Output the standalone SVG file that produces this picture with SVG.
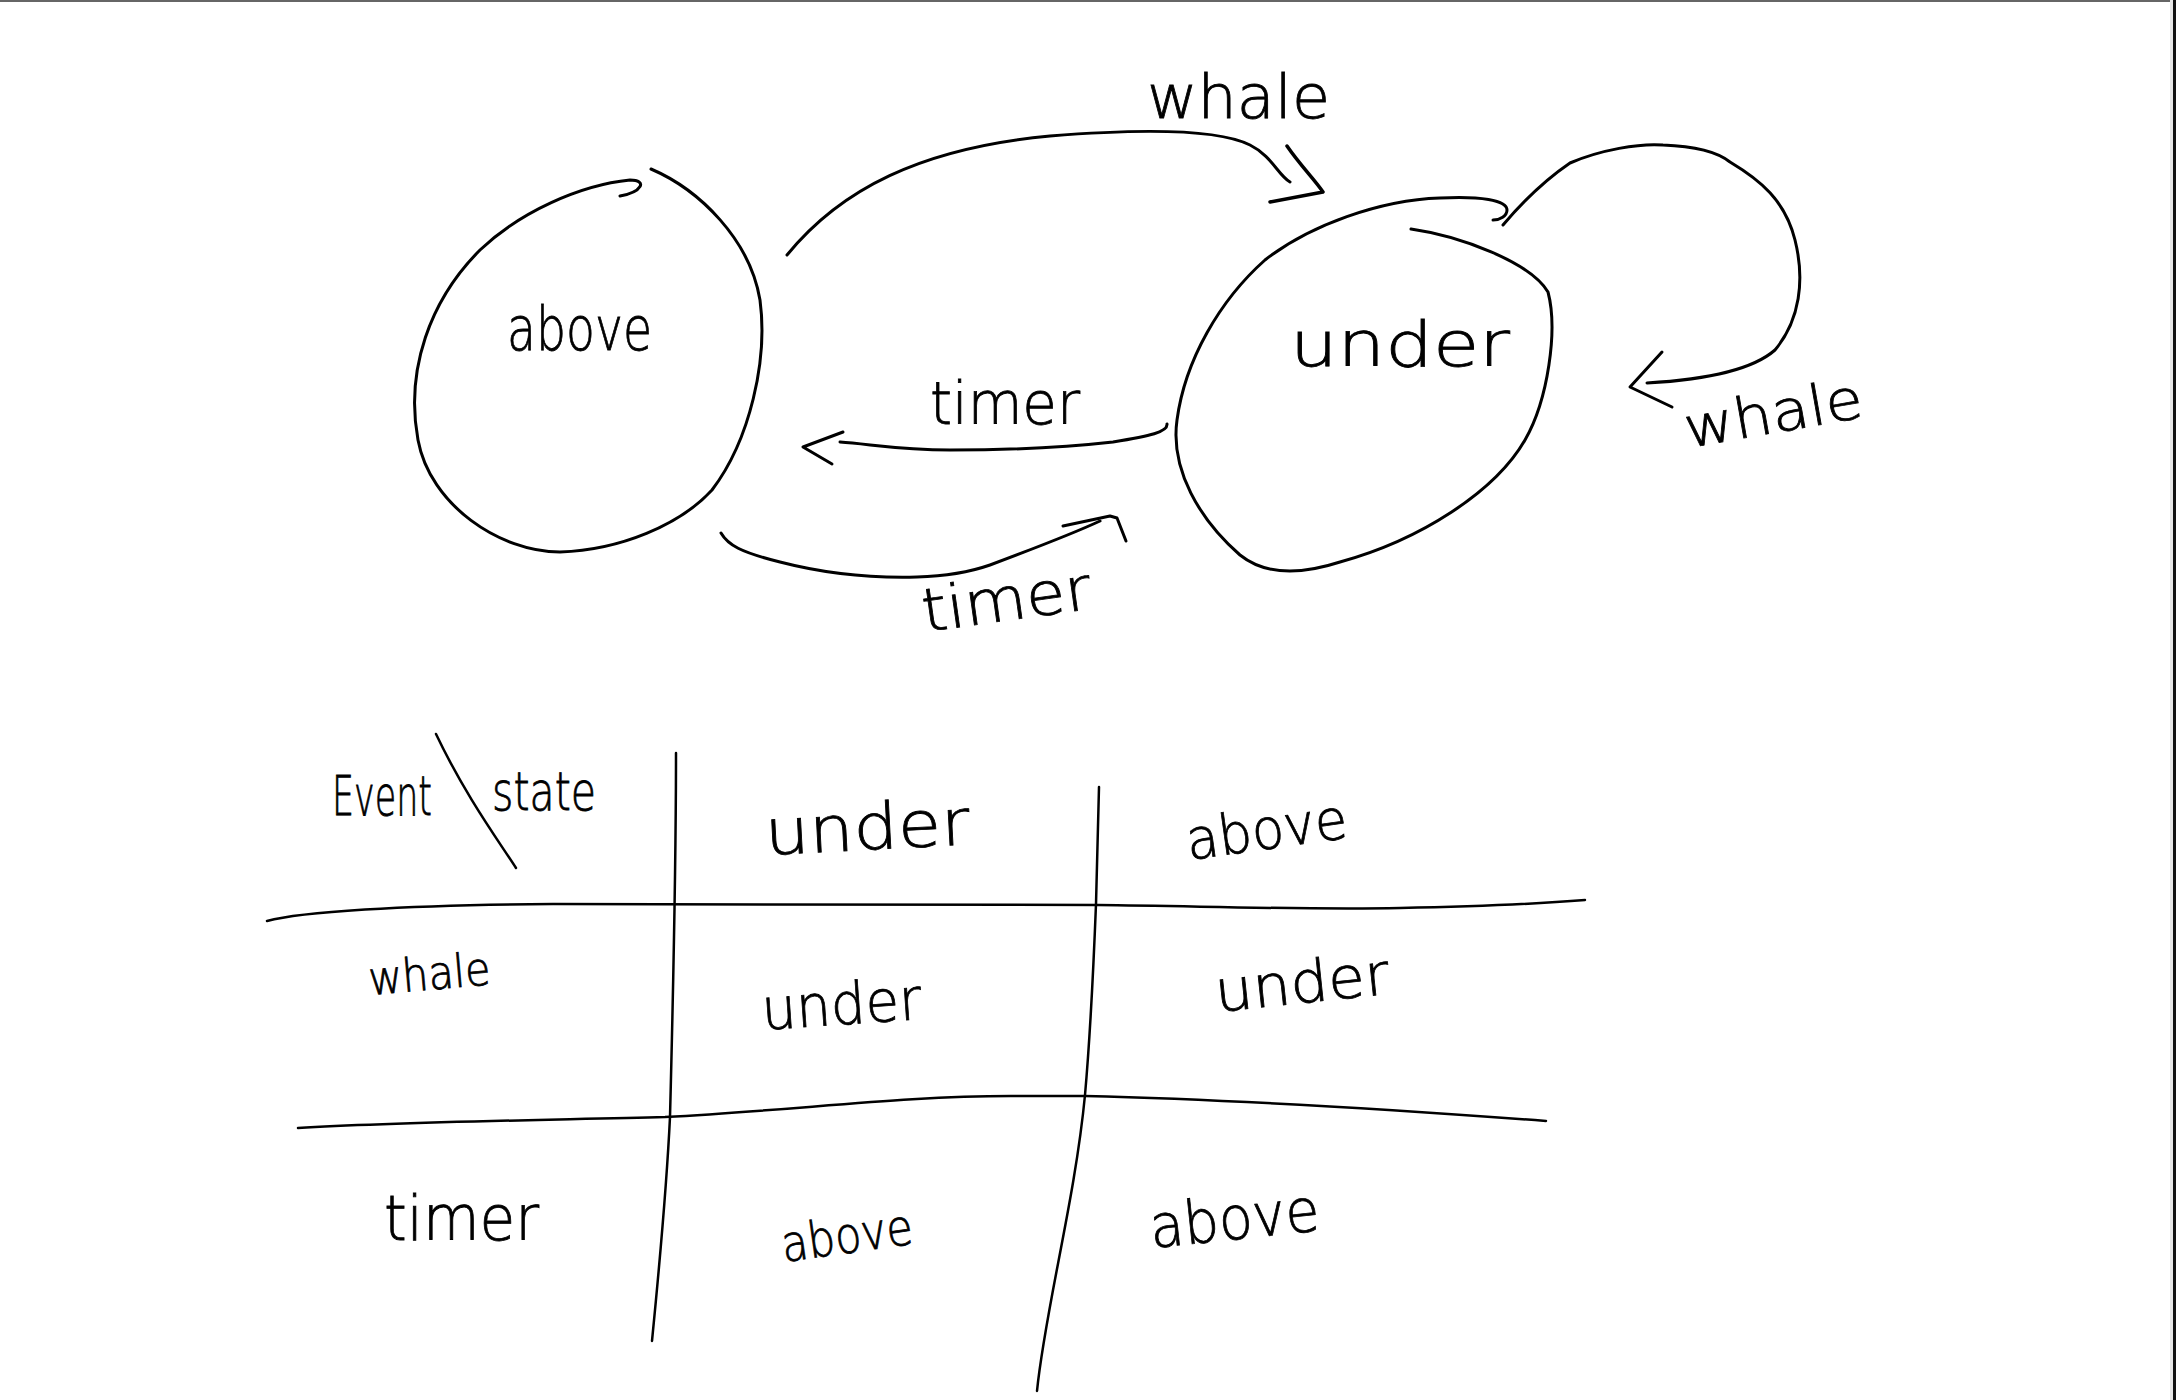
<svg xmlns="http://www.w3.org/2000/svg" width="2176" height="1400" viewBox="0 0 2176 1400">
<style>
.ink{fill:none;stroke:#000;stroke-width:3;stroke-linecap:round;stroke-linejoin:round}
.thin{fill:none;stroke:#000;stroke-width:2.5;stroke-linecap:round;stroke-linejoin:round}
.head{fill:none;stroke:#000;stroke-width:3.5;stroke-linecap:round;stroke-linejoin:round}
.hw{font-family:"DejaVu Sans","Liberation Sans",sans-serif;font-weight:200;fill:#000;stroke:#000;stroke-width:0.8}
</style>
<rect x="0" y="0" width="2176" height="1400" fill="#fff"/>
<line x1="0" y1="1" x2="2176" y2="1" stroke="#666" stroke-width="2"/>
<rect x="2170" y="0" width="3" height="1400" fill="#e6e6e6"/>
<rect x="2173" y="0" width="3" height="1400" fill="#111"/>

<g id="node-above">
<path class="ink" d="M651,169 C700,190 750,240 760,300 C768,360 750,440 712,490 C680,525 620,550 560,552 C500,552 430,505 418,440 C405,370 430,300 480,250 C520,212 580,185 630,180 C648,180 642,192 620,196"/>
<text class="hw" x="507" y="350" font-size="60" textLength="145" lengthAdjust="spacingAndGlyphs">above</text>
</g>

<g id="node-under">
<path class="ink" d="M1411,229 C1460,236 1530,262 1548,292 C1558,330 1548,400 1525,440 C1495,492 1420,540 1340,562 C1300,575 1265,575 1240,555 C1200,520 1170,470 1177,420 C1185,360 1220,300 1265,260 C1310,225 1380,200 1440,198 C1480,196 1507,200 1507,210 C1507,216 1500,220 1493,220"/>
<text class="hw" x="1290" y="366" font-size="62" textLength="220" lengthAdjust="spacingAndGlyphs">under</text>
</g>

<g id="connectors">
<g id="edge-whale-above-under">
<path class="ink" d="M787,255 C840,190 920,148 1050,136 C1150,128 1220,130 1250,145 C1272,156 1278,175 1290,182"/>
<path class="head" d="M1287,146 C1300,165 1315,180 1323,192 L1270,202"/>
</g>
<g id="edge-timer-under-above">
<path class="ink" d="M1167,424 C1168,432 1150,436 1113,442 C1060,448 1000,450 950,450 C900,450 870,444 840,442"/>
<path class="ink" d="M843,432 L803,447 L832,464"/>
</g>
<g id="edge-timer-above-under">
<path class="ink" d="M721,533 C728,545 740,552 780,562 C830,575 880,578 917,577 C950,576 970,572 990,565 C1030,550 1070,535 1100,521"/>
<path class="ink" d="M1063,526 L1110,516 L1117,518 L1126,541"/>
</g>
<g id="edge-whale-under-self">
<path class="ink" d="M1503,225 C1520,205 1545,180 1570,163 C1600,150 1640,143 1663,145 C1690,146 1715,150 1730,162 C1760,180 1785,200 1795,240 C1805,280 1800,320 1775,350 C1750,372 1700,380 1647,383"/>
<path class="ink" d="M1662,352 L1630,387 L1672,407"/>
</g>
</g>

<g id="edge-labels">
<text class="hw" x="1147" y="118" font-size="60" textLength="183" lengthAdjust="spacingAndGlyphs">whale</text>
<text class="hw" x="930" y="424" font-size="58" textLength="150" lengthAdjust="spacingAndGlyphs">timer</text>
<text class="hw" x="925" y="632" font-size="60" textLength="170" lengthAdjust="spacingAndGlyphs" transform="rotate(-8 925 632)">timer</text>
<text class="hw" x="1688" y="448" font-size="56" textLength="180" lengthAdjust="spacingAndGlyphs" transform="rotate(-10 1688 448)">whale</text>
</g>

<g id="table">
<path class="thin" d="M267,921 C300,912 400,905 553,904 L1098,905 C1200,906 1300,910 1400,908 C1500,906 1560,902 1585,900"/>
<path class="thin" d="M298,1128 C400,1122 550,1120 665,1117 C800,1110 900,1096 1011,1096 L1085,1096 C1250,1100 1400,1110 1546,1121"/>
<path class="thin" d="M676,753 C676,850 673,1000 670,1117 C666,1200 657,1290 652,1341"/>
<path class="thin" d="M1099,787 L1096,904 C1093,980 1089,1050 1085,1095 C1075,1200 1045,1310 1037,1391"/>
<path class="thin" d="M436,734 C465,795 498,840 516,868"/>
<text class="hw" x="332" y="815" font-size="56" textLength="100" lengthAdjust="spacingAndGlyphs">Event</text>
<text class="hw" x="492" y="810" font-size="54" textLength="104" lengthAdjust="spacingAndGlyphs">state</text>
<text class="hw" x="766" y="855" font-size="64" textLength="205" lengthAdjust="spacingAndGlyphs" transform="rotate(-3 766 855)">under</text>
<text class="hw" x="1189" y="860" font-size="56" textLength="162" lengthAdjust="spacingAndGlyphs" transform="rotate(-8 1189 860)">above</text>
<text class="hw" x="370" y="995" font-size="46" textLength="122" lengthAdjust="spacingAndGlyphs" transform="rotate(-5 370 995)">whale</text>
<text class="hw" x="763" y="1030" font-size="58" textLength="160" lengthAdjust="spacingAndGlyphs" transform="rotate(-4 763 1030)">under</text>
<text class="hw" x="1217" y="1012" font-size="58" textLength="175" lengthAdjust="spacingAndGlyphs" transform="rotate(-6 1217 1012)">under</text>
<text class="hw" x="384" y="1240" font-size="62" textLength="155" lengthAdjust="spacingAndGlyphs">timer</text>
<text class="hw" x="784" y="1262" font-size="50" textLength="132" lengthAdjust="spacingAndGlyphs" transform="rotate(-8 784 1262)">above</text>
<text class="hw" x="1152" y="1248" font-size="60" textLength="170" lengthAdjust="spacingAndGlyphs" transform="rotate(-6 1152 1248)">above</text>
</g>
</svg>
